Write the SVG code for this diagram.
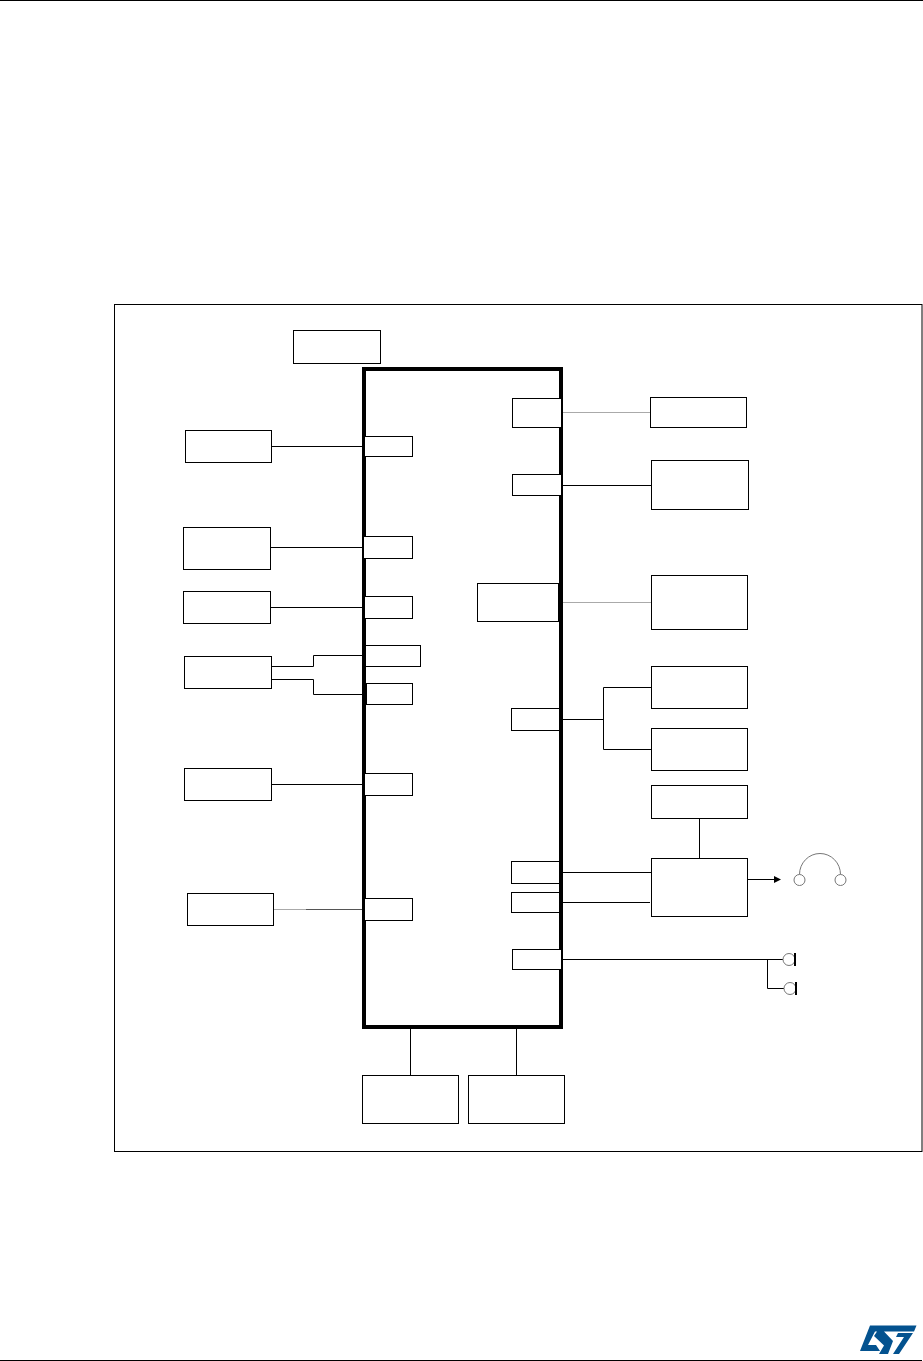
<svg xmlns="http://www.w3.org/2000/svg" width="923" height="1361" viewBox="0 0 923 1361">
<style>
.b{fill:#fff;stroke:#000;stroke-width:1}
.w{fill:none;stroke:#000;stroke-width:1}
.g{fill:none;stroke:#aaa;stroke-width:1}
.h{fill:#fff;stroke:#777;stroke-width:1}
</style>
<rect width="923" height="1361" fill="#fff"/>
<rect x="0" y="0" width="923" height="1" fill="#000"/>
<rect x="0" y="1360" width="922" height="1" fill="#000"/>
<rect id="frame" class="b" x="114.5" y="304.5" width="807.5" height="847"/>
<g id="connectors">
<path class="w" d="M271.5 446.5H362M270.5 547.5H362M270.5 607.5H362M271.5 666.5H313.5V655.5H362M271.5 679.5H313.5V694.5H362M271.5 784.5H362"/>
<path class="g" d="M273.5 909.5H306"/>
<path d="M306 909.5H362" fill="none" stroke="#555"/>
<path class="g" d="M561 412.5H650M563 602.5H651"/>
<path class="w" d="M563 485.5H651M563 719.5H603.5M651.5 687.5H603.5V749.5H651.5M563 872.5H651M563 902.5H650M699.5 818.5V858M563 959.5H783M767.5 959.5V988.5H784M410.5 1029V1075M516.5 1029V1075M748 879.5H775"/>
<path d="M781 879.5L774 876V883Z" fill="#000"/>
</g>
<rect id="chip" x="364" y="369" width="197" height="658" fill="none" stroke="#000" stroke-width="4"/>
<g id="n-top"><rect class="b" x="293.5" y="330.5" width="87" height="33"/></g>
<g id="n-l1"><rect class="b" x="185.5" y="430.5" width="86" height="32"/></g>
<g id="n-l2"><rect class="b" x="183.5" y="527.5" width="87" height="42"/></g>
<g id="n-l3"><rect class="b" x="183.5" y="591.5" width="87" height="32"/></g>
<g id="n-l4"><rect class="b" x="184.5" y="656.5" width="87" height="32"/></g>
<g id="n-l5"><rect class="b" x="184.5" y="768.5" width="87" height="32"/></g>
<g id="n-l6"><rect class="b" x="187.5" y="893.5" width="86" height="32"/></g>
<g id="p-l1"><rect class="b" x="364.5" y="436.5" width="48" height="20"/></g>
<g id="p-l2"><rect class="b" x="363.5" y="536.5" width="49" height="22"/></g>
<g id="p-l3"><rect class="b" x="364.5" y="596.5" width="48" height="22"/></g>
<g id="p-l4a"><rect class="b" x="365.5" y="645.5" width="55" height="21"/></g>
<g id="p-l4b"><rect class="b" x="366.5" y="683.5" width="46" height="21"/></g>
<g id="p-l5"><rect class="b" x="364.5" y="773.5" width="48" height="22"/></g>
<g id="p-l6"><rect class="b" x="364.5" y="898.5" width="48" height="22"/></g>
<g id="p-r1"><rect class="b" x="512.5" y="398.5" width="49" height="29"/></g>
<g id="p-r2"><rect class="b" x="512.5" y="474.5" width="49" height="21"/></g>
<g id="p-r3"><rect class="b" x="477.5" y="583.5" width="81" height="38"/></g>
<g id="p-r4"><rect class="b" x="511.5" y="708.5" width="48" height="22"/></g>
<g id="p-r5"><rect class="b" x="511.5" y="861.5" width="48" height="22"/></g>
<g id="p-r6"><rect class="b" x="511.5" y="892.5" width="48" height="20"/></g>
<g id="p-r7"><rect class="b" x="512.5" y="949.5" width="49" height="20"/></g>
<g id="n-r1"><rect class="b" x="650.5" y="397.5" width="96" height="30"/></g>
<g id="n-r2"><rect class="b" x="651.5" y="460.5" width="97" height="49"/></g>
<g id="n-r3"><rect class="b" x="651.5" y="575.5" width="96" height="54"/></g>
<g id="n-r4"><rect class="b" x="651.5" y="666.5" width="96" height="42"/></g>
<g id="n-r5"><rect class="b" x="651.5" y="728.5" width="96" height="42"/></g>
<g id="n-r6"><rect class="b" x="651.5" y="785.5" width="96" height="33"/></g>
<g id="n-r7"><rect class="b" x="651.5" y="858.5" width="96" height="58"/></g>
<g id="n-b1"><rect class="b" x="362.5" y="1075.5" width="96" height="48"/></g>
<g id="n-b2"><rect class="b" x="468.5" y="1075.5" width="96" height="48"/></g>
<g id="headphones">
<path d="M799.5 874.5A20.5 21 0 0 1 840.5 874.5" fill="none" stroke="#777"/>
<circle class="h" cx="799.5" cy="880" r="5.5"/>
<circle class="h" cx="840.5" cy="880" r="5.5"/>
</g>
<g id="mic1"><circle class="h" cx="789" cy="959.5" r="6"/><rect x="794" y="953" width="2" height="13" fill="#000"/></g>
<g id="mic2"><circle class="h" cx="790" cy="988.5" r="6"/><rect x="795" y="982" width="2" height="13" fill="#000"/></g>
<g id="logo" fill="#03528f">
<path d="M870 1325.5H916.5L914 1331.5H884L893 1341L888 1354H879L884 1345.5L874 1336L877 1331.5H875L868 1345H876L880 1351H860Z"/>
<path d="M898 1333H913L899 1354H893L904 1337H896Z"/>
</g>
</svg>
